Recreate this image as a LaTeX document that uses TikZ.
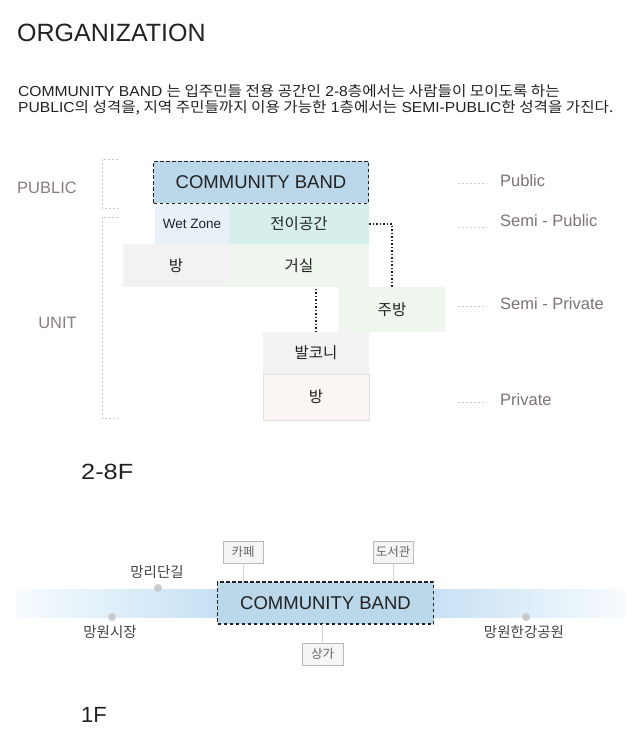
\documentclass[tikz,border=0pt]{standalone}
\usepackage{fontspec}
\setmainfont{Liberation Sans}
\newfontfamily\kr{Noto Sans CJK KR}
\definecolor{cbfill}{HTML}{BBD7EA}
\definecolor{wetfill}{HTML}{E8F1F8}
\definecolor{jeonfill}{HTML}{D6EEEC}
\definecolor{grayfill}{HTML}{F2F2F2}
\definecolor{greenfill}{HTML}{EEF6EE}
\definecolor{pinkfill}{HTML}{FBF5F4}
\definecolor{labelc}{HTML}{8A7D7D}
\definecolor{rlabelc}{HTML}{7E7373}
\definecolor{darkc}{HTML}{222222}
\definecolor{bandblue}{HTML}{C6E1F4}
\definecolor{bandfade}{HTML}{F7FBFE}
\definecolor{dotc}{HTML}{C9CACE}
\tikzset{
  room/.style={draw=none, inner sep=0pt, outer sep=0pt, text=darkc},
  cbbox/.style={room, fill=cbfill, draw=darkc, line width=1.3pt, dash pattern=on 3.5pt off 2.5pt},
  conn/.style={draw=darkc, line width=1.5pt, dash pattern=on 1.5pt off 2pt},
  bracket/.style={draw=gray!45, line width=0.6pt, dash pattern=on 2pt off 2pt},
  lvl/.style={draw=gray!40, line width=0.6pt, dash pattern=on 2pt off 2pt},
  sidelabel/.style={text=labelc, font=\fontsize{16.5}{18}\selectfont, inner sep=0pt},
  rlabel/.style={text=rlabelc, font=\fontsize{16.5}{18}\selectfont, inner sep=0pt, anchor=west},
  tag/.style={draw=gray!55, fill=gray!8, line width=0.6pt, inner sep=0pt, minimum height=22pt, text=gray!80!black, font=\kr\fontsize{12.5}{14}\selectfont},
  tagline/.style={draw=gray!35, line width=0.6pt},
  place/.style={text=darkc!85, font=\kr\fontsize{14.5}{16}\selectfont, inner sep=0pt},
  pdot/.style={circle, fill=dotc, inner sep=0pt, minimum size=8pt},
  krtxt/.style={font=\kr\fontsize{15.5}{17}\selectfont},
  para/.style={anchor=west, inner sep=0pt, text=darkc, font=\fontsize{14.5}{16}\selectfont},
}
\begin{document}
\begin{tikzpicture}[x=1pt,y=-1pt]
\useasboundingbox (0,0) rectangle (631,743);
% title
\node[anchor=west, inner sep=0pt, text=darkc, font=\fontsize{25}{28}\selectfont] (title) at (17,33) {ORGANIZATION};
\node[para] (p1) at (18,91)
  {\scalebox{1.078}[1]{COMMUNITY BAND {\kr 는 입주민들 전용 공간인} 2-8{\kr 층에서는 사람들이 모이도록 하는}}};
\node[para] (p2) at (18,108)
  {\scalebox{1.078}[1]{PUBLIC{\kr 의 성격을, 지역 주민들까지 이용 가능한} 1{\kr 층에서는} SEMI-PUBLIC{\kr 한 성격을 가진다.}}};

% brackets
\draw[bracket] (118,159) -- (102,159) -- (102,208) -- (118,208);
\draw[bracket] (118,217) -- (102,217) -- (102,418) -- (118,418);
\node[sidelabel] (lpub) at (47,188) {PUBLIC};
\node[sidelabel, anchor=east] (lunit) at (77,323) {UNIT};

% rooms
\node[room, fill=wetfill, minimum width=74pt, minimum height=40pt, font=\fontsize{13.5}{15}\selectfont] (wet) at (192,224) {Wet Zone};
\node[room, fill=jeonfill, minimum width=140pt, minimum height=40pt, krtxt] (jeon) at (299,224) {전이공간};
\node[room, fill=grayfill, minimum width=106pt, minimum height=43pt, krtxt] (bangL) at (176,265.5) {방};
\node[room, fill=greenfill, minimum width=140pt, minimum height=43pt, krtxt] (geosil) at (299,265.5) {거실};
\node[room, fill=greenfill, minimum width=106pt, minimum height=45pt, krtxt] (jubang) at (392,309.5) {주방};
\node[room, fill=grayfill, minimum width=106pt, minimum height=42pt, krtxt] (balcony) at (316,353) {발코니};
\node[room, fill=pinkfill, draw=gray!25, line width=0.8pt, minimum width=106pt, minimum height=46pt, krtxt] (bangB) at (316,397) {방};
\node[cbbox, minimum width=215pt, minimum height=42pt, font=\fontsize{18.5}{20}\selectfont] (cb) at (261,182.5) {COMMUNITY BAND};

\draw[conn] (jeon.east) -| (jubang.north);
\draw[conn] (balcony.north) -- (balcony.north |- geosil.south);

% level labels
\draw[lvl] (458,183) -- (487,183);
\node[rlabel] (rpub) at (500,181) {Public};
\draw[lvl] (458,227) -- (487,227);
\node[rlabel] (rsp) at (500,221) {Semi - Public};
\draw[lvl] (458,306) -- (487,306);
\node[rlabel] (rspr) at (500,304) {Semi - Private};
\draw[lvl] (458,402) -- (487,402);
\node[rlabel] (rpr) at (500,400) {Private};

\node[anchor=west, inner sep=0pt, text=darkc, font=\fontsize{22}{24}\selectfont] (f28) at (81,472) {\scalebox{1.15}[1]{2-8F}};

% 1F
\shade[left color=bandfade, right color=bandblue] (16,589) rectangle (218,617);
\shade[left color=bandblue, right color=bandfade] (433,589) rectangle (625,617);
\node[cbbox, minimum width=216pt, minimum height=42pt, font=\fontsize{18.5}{20}\selectfont] (cb1) at (325.5,603) {COMMUNITY BAND};
\node[tag, minimum width=40pt] (cafe) at (243,552) {카페};
\node[tag, minimum width=40pt] (lib) at (393,552) {도서관};
\node[tag, minimum width=41pt] (shop) at (322.5,654) {상가};
\draw[tagline] (cafe.south) -- (cafe.south |- cb1.north);
\draw[tagline] (lib.south) -- (lib.south |- cb1.north);
\draw[tagline] (shop.north) -- (shop.north |- cb1.south);

\node[pdot] (d1) at (158,588) {};
\node[place] (t1) at (157,572) {망리단길};
\node[pdot] (d2) at (112,617) {};
\node[place] (t2) at (110,632) {망원시장};
\node[pdot] (d3) at (526,617) {};
\node[place] (t3) at (524,632) {망원한강공원};

\node[anchor=west, inner sep=0pt, text=darkc, font=\fontsize{22}{24}\selectfont] (f1) at (81,715) {1F};
\end{tikzpicture}
\end{document}
